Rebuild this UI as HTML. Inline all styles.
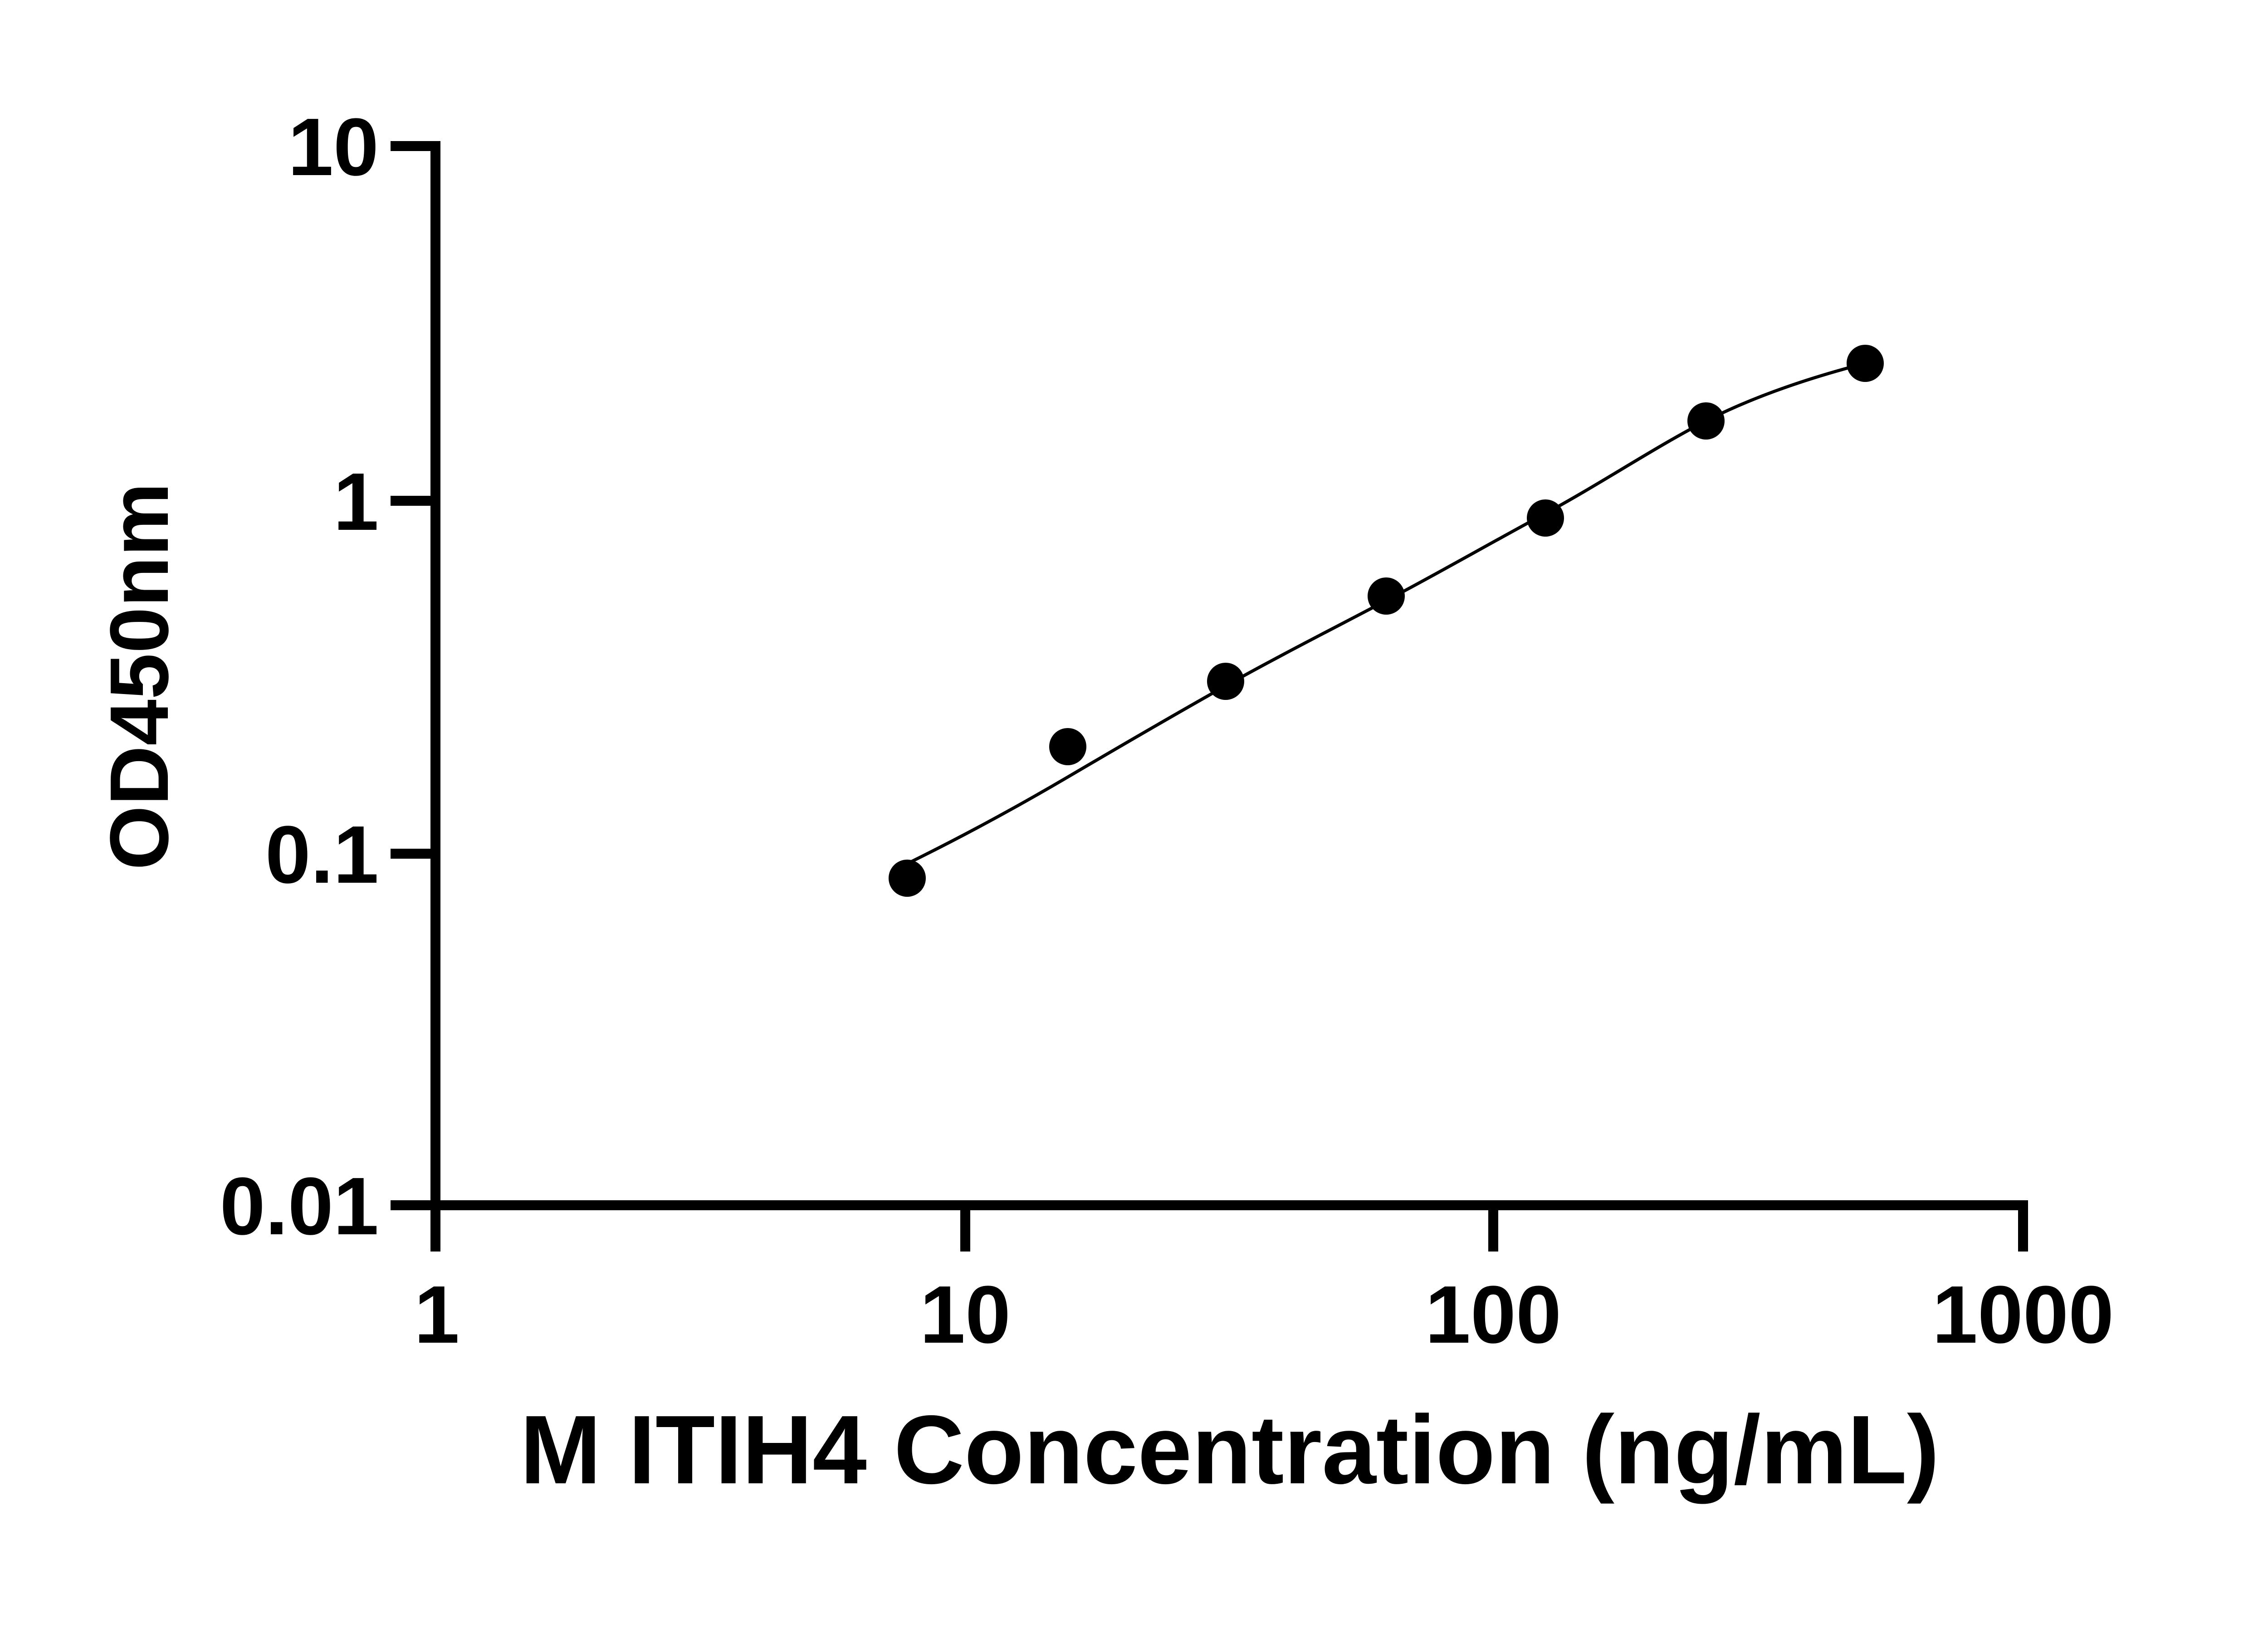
<!DOCTYPE html>
<html><head><style>html,body{margin:0;padding:0;background:#fff}svg{display:block}</style></head>
<body>
<svg width="5142" height="3600" viewBox="0 0 5142 3600" xmlns="http://www.w3.org/2000/svg">
<g stroke="#000" stroke-width="22" fill="none" stroke-linecap="butt">
<line x1="960" y1="311" x2="960" y2="2759"/>
<line x1="949" y1="2657" x2="4460" y2="2657"/>
<line x1="861" y1="322" x2="971" y2="322"/>
<line x1="861" y1="1104" x2="960" y2="1104"/>
<line x1="861" y1="1882" x2="960" y2="1882"/>
<line x1="861" y1="2657" x2="960" y2="2657"/>
<line x1="2128" y1="2657" x2="2128" y2="2759"/>
<line x1="3292" y1="2657" x2="3292" y2="2759"/>
<line x1="4460" y1="2646" x2="4460" y2="2759"/>
</g>
<path d="M2000,1904 C2120,1845 2240,1780 2354,1713 S2590,1575 2702,1512 S2940,1385 3056,1324 S3290,1195 3407,1132 S3650,985 3761,928 S4000,830 4112,801" stroke="#000" stroke-width="7" fill="none"/>
<g fill="#000">
<circle cx="2000" cy="1936" r="41"/>
<circle cx="2354" cy="1646" r="41"/>
<circle cx="2702" cy="1502" r="41"/>
<circle cx="3056" cy="1314" r="41"/>
<circle cx="3407" cy="1142" r="41"/>
<circle cx="3761" cy="928" r="41"/>
<circle cx="4112" cy="801" r="41"/>
</g>
<g font-family="Liberation Sans, sans-serif" font-weight="bold" font-size="180" fill="#000">
<text x="835" y="386" text-anchor="end">10</text>
<text x="835" y="1168" text-anchor="end">1</text>
<text x="835" y="1946" text-anchor="end">0.1</text>
<text x="835" y="2721" text-anchor="end">0.01</text>
<text x="963" y="2960" text-anchor="middle">1</text>
<text x="2128" y="2960" text-anchor="middle">10</text>
<text x="3292" y="2960" text-anchor="middle">100</text>
<text x="4460" y="2960" text-anchor="middle">1000</text>
</g>
<text x="2711" y="3270" text-anchor="middle" font-family="Liberation Sans, sans-serif" font-weight="bold" font-size="215" fill="#000">M ITIH4 Concentration (ng/mL)</text>
<text transform="translate(370,1491) rotate(-90)" text-anchor="middle" font-family="Liberation Sans, sans-serif" font-weight="bold" font-size="183" fill="#000">OD450nm</text>
</svg>
</body></html>
